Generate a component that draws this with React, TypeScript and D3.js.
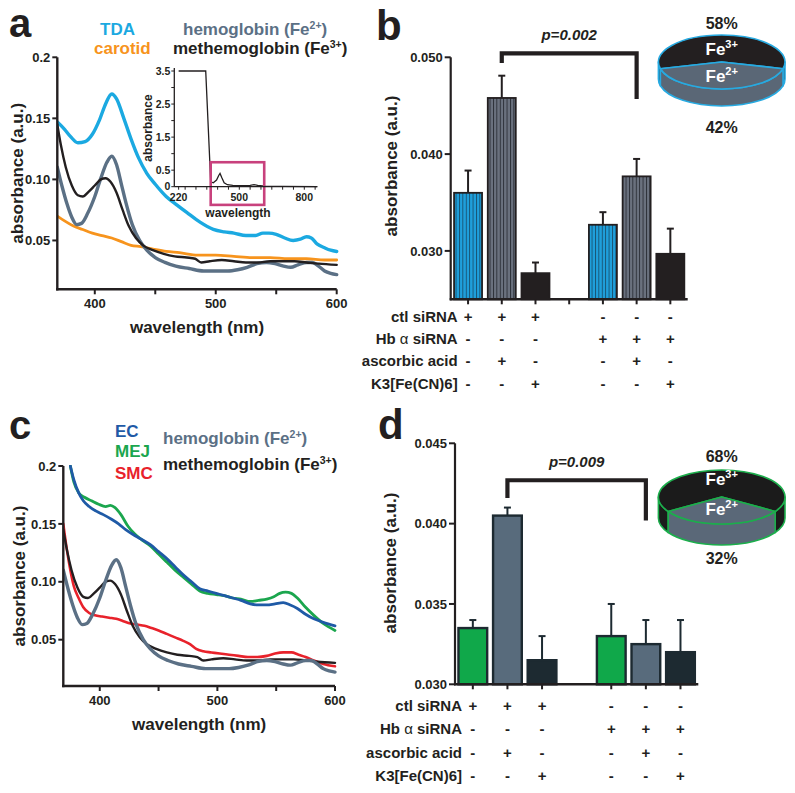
import React from "react";
import * as d3 from "d3";

const FONT = "'Liberation Sans', Arial, Helvetica, sans-serif";
const INK = "#231f20";

// ---- spectra: [wavelength (nm), absorbance] ----
const tdaSpectrum = [
  [369, 0.147], [375, 0.141], [380, 0.135], [386, 0.130], [392, 0.131], [398, 0.137],
  [404, 0.149], [409, 0.162], [414, 0.170], [418, 0.166], [424, 0.150], [430, 0.133],
  [436, 0.118], [443, 0.105], [450, 0.096], [459, 0.086], [468, 0.079], [476, 0.073],
  [487, 0.065], [498, 0.059], [507, 0.057], [515, 0.056], [525, 0.054], [533, 0.054],
  [539, 0.056], [544, 0.056], [550, 0.055], [557, 0.052], [564, 0.050], [570, 0.051],
  [575, 0.053], [579, 0.052], [584, 0.047], [590, 0.044], [595, 0.042], [600, 0.041],
];
const carotidSpectrum = [
  [369, 0.070], [375, 0.066], [382, 0.062], [390, 0.059], [398, 0.056], [406, 0.054],
  [414, 0.052], [422, 0.049], [430, 0.046], [438, 0.045], [448, 0.043], [459, 0.041],
  [470, 0.040], [485, 0.038], [500, 0.038], [515, 0.037], [530, 0.036], [545, 0.036],
  [560, 0.035], [575, 0.035], [590, 0.034], [600, 0.034],
];
const hemoglobinSpectrum = [
  [369, 0.110], [373, 0.094], [377, 0.080], [381, 0.069], [385, 0.063], [389, 0.064],
  [394, 0.072], [400, 0.086], [405, 0.101], [410, 0.114], [414, 0.119], [418, 0.112],
  [422, 0.096], [426, 0.080], [431, 0.063], [437, 0.050], [443, 0.042], [450, 0.036],
  [458, 0.032], [467, 0.029], [478, 0.027], [490, 0.025], [500, 0.025], [510, 0.025],
  [518, 0.026], [526, 0.028], [534, 0.031], [542, 0.032], [549, 0.031], [556, 0.029],
  [562, 0.028], [568, 0.030], [575, 0.032], [580, 0.032], [585, 0.029], [590, 0.025],
  [595, 0.023], [600, 0.022],
];
const methemoglobinSpectrum = [
  [369, 0.145], [372, 0.128], [376, 0.110], [381, 0.095], [386, 0.087], [390, 0.086],
  [395, 0.090], [400, 0.095], [405, 0.100], [409, 0.101], [413, 0.098], [418, 0.089],
  [423, 0.075], [428, 0.062], [434, 0.052], [440, 0.046], [448, 0.042], [457, 0.039],
  [466, 0.037], [476, 0.036], [483, 0.035], [488, 0.032], [495, 0.033], [505, 0.034],
  [515, 0.033], [525, 0.032], [535, 0.032], [545, 0.033], [555, 0.033], [565, 0.033],
  [575, 0.032], [585, 0.031], [600, 0.030],
];
const ecSpectrum = [
  [375, 0.200], [378, 0.188], [382, 0.177], [386, 0.170], [391, 0.165], [397, 0.161],
  [403, 0.158], [410, 0.154], [416, 0.150], [422, 0.145], [428, 0.141], [435, 0.137],
  [443, 0.132], [450, 0.126], [457, 0.120], [464, 0.113], [471, 0.106], [478, 0.100],
  [485, 0.094], [492, 0.092], [499, 0.090], [506, 0.088], [513, 0.086], [520, 0.084],
  [528, 0.081], [535, 0.080], [542, 0.080], [549, 0.081], [556, 0.082], [562, 0.080],
  [568, 0.077], [575, 0.072], [582, 0.068], [590, 0.065], [600, 0.062],
];
const mejSpectrum = [
  [375, 0.200], [378, 0.186], [382, 0.177], [387, 0.173], [393, 0.170], [399, 0.167],
  [405, 0.165], [409, 0.166], [413, 0.164], [418, 0.158], [424, 0.148], [430, 0.141],
  [436, 0.136], [443, 0.131], [450, 0.124], [457, 0.117], [464, 0.110], [471, 0.104],
  [478, 0.098], [485, 0.092], [492, 0.090], [499, 0.089], [506, 0.088], [513, 0.086],
  [520, 0.085], [528, 0.083], [535, 0.084], [542, 0.085], [548, 0.087], [553, 0.090],
  [558, 0.091], [563, 0.090], [568, 0.086], [575, 0.078], [582, 0.071], [590, 0.064],
  [600, 0.058],
];
const smcSpectrum = [
  [369, 0.150], [372, 0.128], [375, 0.110], [378, 0.096], [382, 0.086], [386, 0.078],
  [391, 0.073], [396, 0.071], [402, 0.070], [408, 0.069], [414, 0.068], [420, 0.066],
  [426, 0.064], [432, 0.063], [438, 0.062], [444, 0.060], [450, 0.058], [457, 0.055],
  [464, 0.052], [471, 0.049], [477, 0.046], [482, 0.042], [488, 0.040], [495, 0.039],
  [502, 0.038], [510, 0.037], [518, 0.036], [526, 0.035], [534, 0.035], [542, 0.036],
  [549, 0.038], [556, 0.039], [563, 0.039], [569, 0.037], [575, 0.035], [582, 0.032],
  [590, 0.029], [600, 0.027],
];
// full-range inset spectrum (panel a)
const insetSpectrum = [
  [220, 3.5], [345, 3.5], [368, 0.15], [380, 0.12], [395, 0.2], [405, 0.34], [411, 0.4],
  [420, 0.26], [430, 0.12], [445, 0.06], [470, 0.04], [520, 0.03], [550, 0.04],
  [568, 0.06], [585, 0.04], [620, 0.02], [700, 0.01], [860, 0.0],
];
const insetZoomBox = { x: [368, 615], y: [-0.55, 0.74] };

const wavelengthRange = [369, 600];
const absorbanceRange = [0.01, 0.2];
const absTicks = [0.05, 0.1, 0.15, 0.2];
const absTickLabels = ["0.05", "0.10", "0.15", "0.2"];
const wlTicks = [400, 450, 500, 550, 600];
const wlTickLabels = [400, 500, 600];
const insetYTicks = [0, 0.5, 1, 1.5, 2, 2.5, 3, 3.5];
const insetYLabels = [0, 0.5, 1.5, 2.5, 3.5];
const insetXTicks = [220, 250, 300, 350, 400, 450, 500, 550, 600, 650, 700, 750, 800, 850];
const insetXLabels = [220, 500, 800];

// ---- bar charts ----
const slots = [0, 1, 2, 3, 4, 5, 6];
const barSlots = [0, 1, 2, 4, 5, 6];
const bMeans = [0.0360, 0.0458, 0.0277, 0.0327, 0.0377, 0.0297];
const bSem = [0.0023, 0.0023, 0.0011, 0.0013, 0.0018, 0.0026];
const dMeans = [0.0335, 0.0405, 0.0315, 0.0330, 0.0325, 0.0320];
const dSem = [0.0005, 0.0005, 0.0015, 0.0020, 0.0015, 0.0020];
const bTicks = [0.03, 0.04, 0.05];
const bTickLabels = ["0.030", "0.040", "0.050"];
const dTicks = [0.03, 0.035, 0.04, 0.045];
const dTickLabels = ["0.030", "0.035", "0.040", "0.045"];

const rowLabels = ["ctl siRNA", "Hb α siRNA", "ascorbic acid", "K3[Fe(CN)6]"];
const ctlRow = ["+", "+", "+", "-", "-", "-"];
const hbRow = ["-", "-", "-", "+", "+", "+"];
const ascRow = ["-", "+", "-", "-", "+", "-"];
const k3Row = ["-", "-", "+", "-", "-", "+"];
const signRows = [ctlRow, hbRow, ascRow, k3Row];

const bPie = [58, 42];
const dPie = [68, 32];

function SpectrumPanel({ id, left, right, top, bottom, series, titleX }: any) {
  const x = d3.scaleLinear().domain(wavelengthRange).range([left, right]);
  const y = d3.scaleLinear().domain(absorbanceRange).range([bottom, top]);
  const line = d3.line<number[]>().x(d => x(d[0])).y(d => y(d[1])).curve(d3.curveMonotoneX);
  return (
    <g>
      <defs>
        <clipPath id={id}>
          <rect x={left} y={top - 1} width={right - left + 3} height={bottom - top} />
        </clipPath>
      </defs>
      <g clipPath={`url(#${id})`}>
        {series.map((s: any, i: number) => (
          <path key={i} d={line(s.data) as string} fill="none" stroke={s.color}
            strokeWidth={s.width} strokeLinejoin="round" strokeLinecap="round" />
        ))}
      </g>
      <line x1={left} x2={left} y1={top} y2={bottom + 1.2} stroke={INK} strokeWidth={2.4} />
      <line x1={left - 1.2} x2={right} y1={bottom} y2={bottom} stroke={INK} strokeWidth={2.4} />
      {absTicks.map((t, i) => (
        <g key={t}>
          <line x1={left - 5} x2={left} y1={y(t)} y2={y(t)} stroke={INK} strokeWidth={2} />
          <text x={left - 7} y={y(t)} dy="0.36em" textAnchor="end" fontSize={13} fontWeight="bold" fill={INK}>
            {absTickLabels[i]}
          </text>
        </g>
      ))}
      {wlTicks.map(t => (
        <line key={t} x1={x(t)} x2={x(t)} y1={bottom} y2={bottom + 5} stroke={INK} strokeWidth={2} />
      ))}
      {wlTickLabels.map(t => (
        <text key={t} x={x(t)} y={bottom + 19} textAnchor="middle" fontSize={13} fontWeight="bold" fill={INK}>{t}</text>
      ))}
      <text x={(left + right) / 2} y={bottom + 44} textAnchor="middle" fontSize={17} fontWeight="bold" fill={INK}>
        wavelength (nm)
      </text>
      <text transform={`translate(${titleX},${(top + bottom) / 2}) rotate(-90)`} textAnchor="middle"
        fontSize={17} fontWeight="bold" fill={INK}>
        absorbance (a.u.)
      </text>
    </g>
  );
}

function Inset() {
  const x = d3.scaleLinear().domain([200, 860]).range([174.3, 317.3]);
  const y = d3.scaleLinear().domain([0, 3.5]).range([186.7, 71]);
  const line = d3.line<number[]>().x(d => x(d[0])).y(d => y(d[1]));
  const left = x(200), bottom = y(0);
  return (
    <g>
      <path d={line(insetSpectrum) as string} fill="none" stroke={INK} strokeWidth={1.3} />
      <rect x={x(insetZoomBox.x[0])} y={y(insetZoomBox.y[1])} width={x(insetZoomBox.x[1]) - x(insetZoomBox.x[0])}
        height={y(insetZoomBox.y[0]) - y(insetZoomBox.y[1])} fill="none" stroke="#c8417d" strokeWidth={2.6} />
      <line x1={left} x2={left} y1={68} y2={bottom} stroke={INK} strokeWidth={1.3} />
      <line x1={left} x2={x(860)} y1={bottom} y2={bottom} stroke={INK} strokeWidth={1.3} />
      {insetYTicks.map(t => (
        <line key={t} x1={left - 3} x2={left} y1={y(t)} y2={y(t)} stroke={INK} strokeWidth={1} />
      ))}
      {insetYLabels.map(t => (
        <text key={t} x={left - 4} y={y(t)} dy="0.36em" textAnchor="end" fontSize={10.5} fontWeight="bold" fill={INK}>{t}</text>
      ))}
      {insetXTicks.map(t => (
        <line key={t} x1={x(t)} x2={x(t)} y1={bottom} y2={bottom + 3} stroke={INK} strokeWidth={1} />
      ))}
      {insetXLabels.map(t => (
        <text key={t} x={x(t)} y={bottom + 14} textAnchor="middle" fontSize={10.5} fontWeight="bold" fill={INK}>{t}</text>
      ))}
      <text x={238} y={217} textAnchor="middle" fontSize={12} fontWeight="bold" fill={INK}>wavelength</text>
      <text transform="translate(152,128) rotate(-90)" textAnchor="middle" fontSize={12} fontWeight="bold" fill={INK}>absorbance</text>
    </g>
  );
}

function BarPanel(props: any) {
  const { left, right, top, bottom, domain, ticks, tickLabels, means, sems, fills, stroke, strokeW,
    bracket, pText, rowTop, rowStep, gapTick } = props;
  const x = d3.scaleBand<number>().domain(slots).range([left, right]).paddingInner(0.17).paddingOuter(0.1);
  const y = d3.scaleLinear().domain(domain).range([bottom, top]);
  const bw = x.bandwidth();
  const cx = (s: number) => (x(s) as number) + bw / 2;
  const tickSlots = gapTick ? slots : barSlots;
  const bx1 = cx(bracket.from), bx2 = cx(bracket.to), by = y(bracket.top);
  return (
    <g>
      {barSlots.map((s, i) => (
        <g key={s}>
          <line x1={cx(s)} x2={cx(s)} y1={y(means[i])} y2={y(means[i] + sems[i])} stroke={stroke} strokeWidth={2} />
          <line x1={cx(s) - 3.5} x2={cx(s) + 3.5} y1={y(means[i] + sems[i])} y2={y(means[i] + sems[i])} stroke={stroke} strokeWidth={2} />
          <rect x={x(s)} y={y(means[i])} width={bw} height={bottom - y(means[i])} fill={fills[i]}
            stroke={stroke} strokeWidth={strokeW} />
        </g>
      ))}
      <line x1={left} x2={left} y1={top} y2={bottom + 1} stroke={INK} strokeWidth={2.2} />
      <line x1={left - 1} x2={right} y1={bottom} y2={bottom} stroke={INK} strokeWidth={2.4} />
      {ticks.map((t: number, i: number) => (
        <g key={t}>
          <line x1={left - 6} x2={left} y1={y(t)} y2={y(t)} stroke={INK} strokeWidth={2} />
          <text x={left - 8} y={y(t)} dy="0.36em" textAnchor="end" fontSize={13} fontWeight="bold" fill={INK}>{tickLabels[i]}</text>
        </g>
      ))}
      {tickSlots.map(s => (
        <line key={s} x1={cx(s)} x2={cx(s)} y1={bottom} y2={bottom + 5} stroke={INK} strokeWidth={2} />
      ))}
      <path d={`M${bx1},${y(bracket.leftEnd)}V${by}H${bx2}V${y(bracket.rightEnd)}`} fill="none" stroke={INK}
        strokeWidth={4.2} />
      <text x={(bx1 + bx2) / 2} y={by - 13} textAnchor="middle" fontSize={15} fontWeight="bold" fontStyle="italic" fill={INK}>
        {pText}
      </text>
      {rowLabels.map((lab, r) => (
        <g key={lab}>
          <text x={left + 7} y={rowTop + r * rowStep} textAnchor="end" fontSize={15} fontWeight="bold" fill={INK}>
            {lab.includes("α") ? (<>Hb <tspan fontWeight="normal">α</tspan> siRNA</>) : lab}
          </text>
          {signRows[r].map((sg, i) => (
            <text key={i} x={cx(barSlots[i])} y={rowTop + r * rowStep} textAnchor="middle" fontSize={15}
              fontWeight="bold" fill={INK}>{sg}</text>
          ))}
        </g>
      ))}
    </g>
  );
}

function Pie3D(props: any) {
  const { cx, cy, rx, ry, depth, shares, outline, backFill, frontFill, pctTop, pctBottom, feTop, feBottom } = props;
  const total = d3.sum(shares as number[]);
  const back = (shares[0] / total) * Math.PI;
  const arcs = d3.pie<number>().sort(null).startAngle(-back).endAngle(2 * Math.PI - back)(shares);
  const fills = [backFill, frontFill];
  const pt = (t: number, dy = 0) => [cx + rx * Math.cos(t), cy + dy + ry * Math.sin(t)];
  const sector = (t1: number, t2: number) => {
    const [x1, y1] = pt(t1), [x2, y2] = pt(t2);
    return `M${cx},${cy}L${x1},${y1}A${rx},${ry} 0 ${t2 - t1 > Math.PI ? 1 : 0} 1 ${x2},${y2}Z`;
  };
  const wall = (t1: number, t2: number) => {
    const [x1, y1] = pt(t1), [x2, y2] = pt(t2);
    const [x3, y3] = pt(t2, depth), [x4, y4] = pt(t1, depth);
    return `M${x1},${y1}A${rx},${ry} 0 0 1 ${x2},${y2}L${x3},${y3}A${rx},${ry} 0 0 0 ${x4},${y4}Z`;
  };
  const walls: any[] = [];
  arcs.forEach((a, i) => {
    const t1 = a.startAngle - Math.PI / 2, t2 = a.endAngle - Math.PI / 2;
    [-2 * Math.PI, 0, 2 * Math.PI].forEach(k => {
      const s = Math.max(t1 + k, 0), e = Math.min(t2 + k, Math.PI);
      if (e > s + 1e-6) walls.push({ s, e, fill: fills[i] });
    });
  });
  return (
    <g>
      {walls.map((w, i) => (
        <path key={i} d={wall(w.s, w.e)} fill={w.fill} stroke={outline} strokeWidth={1.6} strokeLinejoin="round" />
      ))}
      {arcs.map((a, i) => (
        <path key={i} d={sector(a.startAngle - Math.PI / 2, a.endAngle - Math.PI / 2)} fill={fills[i]}
          stroke={outline} strokeWidth={1.6} strokeLinejoin="round" />
      ))}
      <text x={cx} y={pctTop} textAnchor="middle" fontSize={16} fontWeight="bold" fill={INK}>{shares[0]}%</text>
      <text x={cx} y={pctBottom} textAnchor="middle" fontSize={16} fontWeight="bold" fill={INK}>{shares[1]}%</text>
      <text x={cx} y={feTop} textAnchor="middle" fontSize={17} fontWeight="bold" fill="#fff">
        Fe<tspan dy={-7} fontSize={11}>3+</tspan>
      </text>
      <text x={cx} y={feBottom} textAnchor="middle" fontSize={17} fontWeight="bold" fill="#fff">
        Fe<tspan dy={-7} fontSize={11}>2+</tspan>
      </text>
    </g>
  );
}

function Legend({ x, y, text, sup, color }: any) {
  return (
    <text x={x} y={y} fontSize={17} fontWeight="bold" fill={color}>
      {text}
      {sup ? (<><tspan dy={-6} fontSize={10.5}>{sup}</tspan><tspan dy={6}>)</tspan></>) : null}
    </text>
  );
}

export default function App() {
  const seriesA = [
    { data: carotidSpectrum, color: "#f7941d", width: 2.8 },
    { data: tdaSpectrum, color: "#1ba9e1", width: 3.4 },
    { data: hemoglobinSpectrum, color: "#5b7085", width: 3.4 },
    { data: methemoglobinSpectrum, color: INK, width: 2.4 },
  ];
  const seriesC = [
    { data: mejSpectrum, color: "#1ba64e", width: 2.8 },
    { data: ecSpectrum, color: "#1f5aa6", width: 2.8 },
    { data: smcSpectrum, color: "#e8222b", width: 2.6 },
    { data: methemoglobinSpectrum, color: INK, width: 2.4 },
    { data: hemoglobinSpectrum, color: "#5b7085", width: 3.4 },
  ];
  return (
    <svg width={795} height={793} style={{ position: "absolute", left: 0, top: 0, background: "#fff" }}
      fontFamily={FONT}>
      <defs>
        <pattern id="stripeBlue" width={3.4} height={10} patternUnits="userSpaceOnUse">
          <rect width={3.4} height={10} fill="#1f9fdb" />
          <rect width={0.9} height={10} fill="#17506f" />
        </pattern>
        <pattern id="stripeGrey" width={3.4} height={10} patternUnits="userSpaceOnUse">
          <rect width={3.4} height={10} fill="#6a717e" />
          <rect width={0.9} height={10} fill="#2a2d35" />
        </pattern>
      </defs>

      {/* panel letters */}
      <text x={9} y={37} fontSize={40} fontWeight="bold" fill={INK}>a</text>
      <text x={376} y={39.5} fontSize={42} fontWeight="bold" fill={INK}>b</text>
      <text x={9} y={439} fontSize={40} fontWeight="bold" fill={INK}>c</text>
      <text x={378} y={439} fontSize={42} fontWeight="bold" fill={INK}>d</text>

      {/* panel a */}
      <Legend x={100} y={35} text="TDA" color="#1ba9e1" />
      <Legend x={94} y={54} text="carotid" color="#f7941d" />
      <Legend x={183} y={35} text="hemoglobin (Fe" sup="2+" color="#5b7085" />
      <Legend x={173} y={54} text="methemoglobin (Fe" sup="3+" color={INK} />
      <SpectrumPanel id="clipA" left={57.3} right={336.7} top={57.3} bottom={289.3} series={seriesA} titleX={23} />
      <Inset />

      {/* panel c */}
      <Legend x={115} y={437} text="EC" color="#1f5aa6" />
      <Legend x={115} y={457} text="MEJ" color="#1ba64e" />
      <Legend x={115} y={479} text="SMC" color="#e8222b" />
      <Legend x={163} y={444} text="hemoglobin (Fe" sup="2+" color="#5b7085" />
      <Legend x={163} y={470} text="methemoglobin (Fe" sup="3+" color={INK} />
      <SpectrumPanel id="clipC" left={63.3} right={335} top={466} bottom={686} series={seriesC} titleX={24.5} />

      {/* panel b */}
      <text transform="translate(397,166) rotate(-90)" textAnchor="middle" fontSize={17} fontWeight="bold" fill={INK}>
        absorbance (a.u.)
      </text>
      <BarPanel left={450.7} right={687.7} top={57.3} bottom={299.3} domain={[0.025, 0.05]}
        ticks={bTicks} tickLabels={bTickLabels} means={bMeans} sems={bSem}
        fills={["url(#stripeBlue)", "url(#stripeGrey)", INK, "url(#stripeBlue)", "url(#stripeGrey)", INK]}
        stroke={INK} strokeW={1.8}
        bracket={{ from: 1, to: 5, top: 0.0504, leftEnd: 0.0494, rightEnd: 0.0457 }} pText="p=0.002"
        rowTop={321.5} rowStep={22.4} gapTick={true} />
      <Pie3D cx={721.7} cy={62} rx={63.3} ry={27} depth={17} shares={bPie} outline="#27aae1"
        backFill={INK} frontFill="#5a6776" pctTop={28.5} pctBottom={133} feTop={54.5} feBottom={82} />

      {/* panel d */}
      <text transform="translate(396,563) rotate(-90)" textAnchor="middle" fontSize={17} fontWeight="bold" fill={INK}>
        absorbance (a.u.)
      </text>
      <BarPanel left={455} right={698.3} top={443.3} bottom={684.3} domain={[0.03, 0.045]}
        ticks={dTicks} tickLabels={dTickLabels} means={dMeans} sems={dSem}
        fills={["#10a84a", "#586b7c", "#1d2a31", "#10a84a", "#586b7c", "#1d2a31"]}
        stroke="#1d2a31" strokeW={2.4}
        bracket={{ from: 1, to: 5, top: 0.0427, leftEnd: 0.0416, rightEnd: 0.0402 }} pText="p=0.009"
        rowTop={711} rowStep={23.4} gapTick={false} />
      <Pie3D cx={721.7} cy={497} rx={63.3} ry={27} depth={21} shares={dPie} outline="#1cae4c"
        backFill="#1b1b1b" frontFill="#5a6878" pctTop={462} pctBottom={563.5} feTop={485} feBottom={515} />
    </svg>
  );
}
